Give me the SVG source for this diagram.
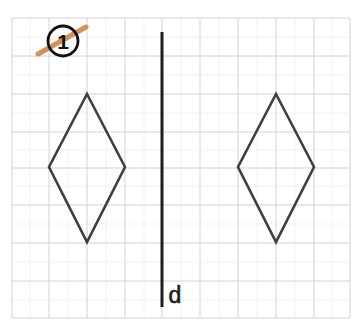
<svg xmlns="http://www.w3.org/2000/svg" width="358" height="326" viewBox="0 0 358 326">
<style>
.grid{stroke:#d2d2d2;stroke-width:1;fill:none}
.minor{stroke:#efefef;stroke-width:0.8;fill:none}
.shape{stroke:#3f3f3f;stroke-width:2.6;fill:none;stroke-linejoin:miter}
</style>
<rect width="358" height="326" fill="#ffffff"/>
<g id="grid">
<path class="minor" d="M30 18V318M68 18V318M106 18V318M144 18V318M181 18V318M219 18V318M257 18V318M295 18V318M332 18V318M12 37H350M12 75H350M12 113H350M12 150H350M12 186H350M12 224H350M12 262H350M12 300H350"/>
<path class="grid" d="M12 18V318M49 18V318M87 18V318M125 18V318M162 18V318M200 18V318M238 18V318M276 18V318M314 18V318M350 18V318M12 18H350M12 56H350M12 94H350M12 132H350M12 168H350M12 205H350M12 243H350M12 281H350M12 318H350"/>
</g>
<g id="label1">
<line x1="38" y1="54" x2="86" y2="27" stroke="#d3884c" stroke-width="5" stroke-linecap="round" opacity="0.92"/>
<circle cx="63" cy="41" r="15" fill="none" stroke="#111" stroke-width="2.8"/>
<text x="63" y="48.5" font-family="Liberation Sans, sans-serif" font-size="21" font-weight="bold" text-anchor="middle" fill="#111">1</text>
</g>
<g id="diamond-left">
<polygon class="shape" points="87,94 125,167 87,242 49,167"/>
</g>
<g id="diamond-right">
<polygon class="shape" points="276,94 314,167 276,242 238,167"/>
</g>
<g id="connectors">
<line x1="162" y1="32" x2="162" y2="307" stroke="#1e1e1e" stroke-width="3"/>
</g>
<g id="label-d">
<text x="168.5" y="303" font-family="Liberation Sans, sans-serif" font-size="23" fill="#1e1e1e" stroke="#1e1e1e" stroke-width="0.6">d</text>
</g>
</svg>
